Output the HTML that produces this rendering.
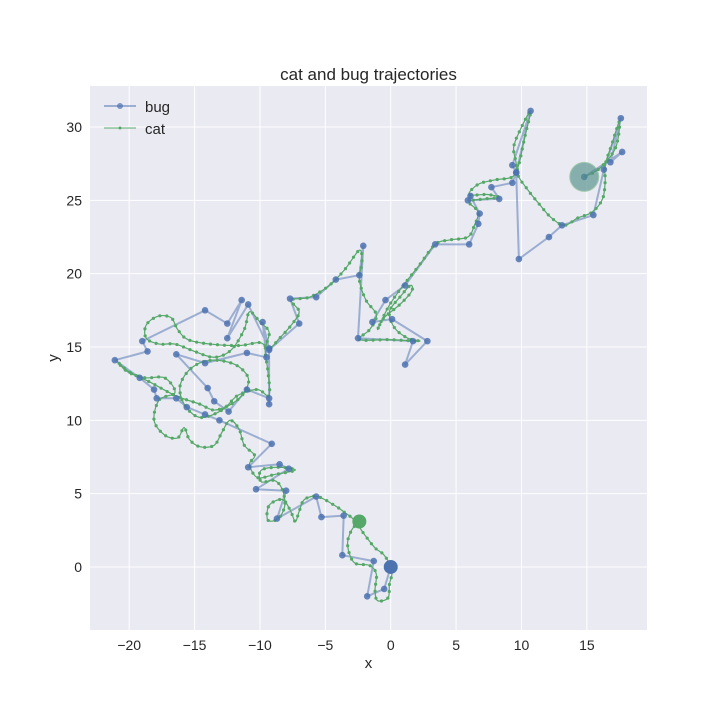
<!DOCTYPE html>
<html><head><meta charset="utf-8"><style>
body{margin:0;background:#fff;font-family:"Liberation Sans","DejaVu Sans",sans-serif}
svg text{font-family:"Liberation Sans","DejaVu Sans",sans-serif;fill:#262626}
</style></head><body>
<svg id="chart" width="720" height="720" viewBox="0 0 720 720">
<rect x="90" y="86" width="557" height="544" fill="#eaeaf2"/>
<g id="grid"></g>
<g id="ticks"></g>
<g id="series"></g>
<text x="368.5" y="80" text-anchor="middle" font-size="17">cat and bug trajectories</text>
<text x="368.5" y="668" text-anchor="middle" font-size="15">x</text>
<text x="58" y="358" text-anchor="middle" font-size="15" transform="rotate(-90 58 358)">y</text>
<g>
<g>
<line x1="104" y1="106" x2="136" y2="106" stroke="#4c72b0" stroke-opacity="0.5" stroke-width="2"/>
<circle cx="120" cy="106" r="3" fill="#4c72b0" fill-opacity="0.7"/>
<text x="145" y="112" font-size="15">bug</text></g>
<g>
<line x1="104" y1="128" x2="136" y2="128" stroke="#55a868" stroke-width="1"/>
<circle cx="120" cy="128" r="1.5" fill="#55a868"/>
<text x="145" y="134" font-size="15">cat</text></g>
</g>
</svg>
<script>
const xTicks=[-20,-15,-10,-5,0,5,10,15];
const yTicks=[0,5,10,15,20,25,30];
const bugX=[0,-0.5,-1.8,-1.3,-3.7,-3.6,-5.3,-5.7,-8.7,-8.0,-10.3,-7.8,-8.5,-10.9,-9.1,-13.1,-14.2,-15.6,-16.4,-17.9,-18.1,-19.2,-21.1,-18.6,-19.0,-14.2,-12.5,-11.4,-12.5,-10.9,-9.3,-9.8,-9.5,-11.0,-14.2,-16.4,-14.0,-13.5,-12.4,-11.0,-9.3,-9.3,-9.3,-7.0,-7.7,-5.7,-4.2,-2.4,-2.1,-2.5,1.7,1.1,2.8,0.1,-1.4,-0.4,1.1,3.4,6.0,6.7,6.8,6.1,5.9,8.3,7.7,9.3,9.6,9.3,10.7,9.6,9.8,12.1,13.1,15.5,16.3,17.6,16.8,17.7,14.8];
const bugY=[0,-1.5,-2.0,0.4,0.8,3.5,3.4,4.8,3.3,5.2,5.3,6.7,7.0,6.8,8.4,10.0,10.4,10.9,11.5,11.5,12.1,12.9,14.1,14.7,15.4,17.5,16.6,18.2,15.6,17.9,14.9,16.7,14.3,14.6,13.9,14.5,12.2,11.3,10.6,12.1,11.5,11.1,14.8,16.6,18.3,18.4,19.6,19.9,21.9,15.6,15.4,13.8,15.4,16.9,16.7,18.2,19.2,22.0,22.0,23.4,24.1,25.3,25.0,25.1,25.9,26.2,26.9,27.4,31.1,26.9,21.0,22.5,23.3,24.0,27.1,30.6,27.6,28.3,26.6];
const catX=[-2.4,-3.0,-3.3,-2.8,-1.6,-1.1,-1.2,-1.0,-0.2,-0.1,0.1,-0.5,-1.2,-2.0,-2.8,-3.5,-4.3,-5.6,-6.6,-7.0,-7.3,-7.7,-8.3,-9.3,-9.4,-8.6,-8.1,-8.3,-8.9,-9.9,-9.9,-8.5,-7.3,-8.9,-10.2,-10.8,-10.4,-11.2,-11.6,-12.3,-12.9,-13.5,-14.6,-15.4,-15.8,-16.3,-17.3,-18.1,-17.7,-16.5,-17.3,-18.8,-20.1,-20.9,-20.0,-18.4,-16.5,-14.6,-13.5,-12.2,-11.2,-10.9,-11.9,-13.7,-15.2,-16.1,-15.8,-14.6,-12.9,-11.7,-10.2,-9.3,-9.4,-9.6,-9.3,-10.0,-10.8,-11.2,-12.2,-13.5,-15.0,-16.5,-17.7,-18.7,-18.7,-17.8,-16.8,-16.3,-15.5,-13.8,-11.6,-10.0,-9.3,-8.5,-7.6,-7.0,-7.6,-6.2,-4.7,-3.5,-2.4,-2.2,-2.4,-1.9,-1.1,-1.6,-2.4,-0.1,2.2,1.3,0.3,-0.1,0.7,1.5,1.6,0.7,-0.5,-1.0,-0.2,0.7,2.2,3.4,4.5,5.9,6.4,6.7,6.0,7.2,8.3,7.4,6.0,6.7,8.0,9.3,9.6,9.4,9.9,10.7,10.3,9.9,9.7,10.5,11.4,12.3,13.3,14.3,15.4,16.2,16.4,16.4,16.9,17.5,17.2,16.0,14.8];
const catY=[3.1,2.5,1.5,0.3,0.1,-0.5,-1.6,-2.3,-2.1,-1.2,-0.2,0.8,1.3,2.2,3.2,3.7,4.2,4.8,4.6,3.8,3.1,3.9,4.6,4.2,3.2,3.3,4.2,5.3,5.9,5.8,6.6,6.8,6.6,6.3,6.1,7.0,7.6,8.3,9.4,10.0,9.2,8.3,8.2,8.7,9.5,8.8,9.0,10.0,11.4,11.9,12.9,12.9,13.3,14.0,13.3,12.6,11.7,11.1,10.7,11.1,11.9,12.9,13.8,14.1,13.6,12.4,11.1,10.2,10.7,11.7,12.1,11.7,13.4,14.8,16.0,16.7,17.4,16.2,14.8,14.3,14.7,15.2,15.2,15.6,16.5,17.1,17.0,16.2,15.5,15.2,15.1,15.3,14.9,15.6,16.5,17.4,18.2,18.4,19.2,20.3,21.6,20.8,19.6,18.2,17.2,16.2,15.5,15.5,15.4,15.6,16.3,17.4,18.4,19.2,18.8,17.9,17.0,16.2,17.7,18.9,20.6,22.0,22.3,22.5,23.3,24.2,24.9,25.1,25.2,25.4,25.4,26.1,26.4,26.6,27.4,28.6,29.8,31.1,29.5,27.8,26.8,25.7,24.7,23.8,23.3,23.8,24.2,25.1,26.3,27.4,28.8,30.4,28.6,27.2,26.6];

const NS="http://www.w3.org/2000/svg";
const X0=90,X1=647,Y0=86,Y1=630,XMIN=-23.0,XMAX=19.6,YMIN=-4.3,YMAX=32.8;
function sx(v){return X0+(v-XMIN)/(XMAX-XMIN)*(X1-X0);}
function sy(v){return Y1-(v-YMIN)/(YMAX-YMIN)*(Y1-Y0);}
function mk(tag,attrs,parent){const e=document.createElementNS(NS,tag);for(const k in attrs)e.setAttribute(k,attrs[k]);parent.appendChild(e);return e;}
const grid=document.getElementById('grid'),ticks=document.getElementById('ticks'),series=document.getElementById('series');
xTicks.forEach(t=>{
  const l=mk('line',{x1:sx(t),x2:sx(t),y1:Y0,y2:Y1,stroke:'#fff','stroke-width':1},grid);
  
  
  const tx=mk('text',{x:sx(t),y:Y1+20,'text-anchor':'middle','font-size':14},ticks);
  tx.textContent=t===0?'0':(t<0?'\u2212'+(-t):t);
  
  
});
yTicks.forEach(t=>{
  const l=mk('line',{x1:X0,x2:X1,y1:sy(t),y2:sy(t),stroke:'#fff','stroke-width':1},grid);
  
  
  const tx=mk('text',{x:X0-8,y:sy(t)+5,'text-anchor':'end','font-size':14},ticks);
  tx.textContent=t;
  
  
});
// bug line
let d='';bugX.forEach((v,i)=>{d+=(i?'L':'M')+sx(v).toFixed(1)+','+sy(bugY[i]).toFixed(1);});
const bl=mk('path',{d:d,fill:'none',stroke:'#4c72b0','stroke-opacity':0.5,'stroke-width':2,'stroke-linejoin':'round'},series);


// cat smooth line
const P=catX.map((v,i)=>[sx(v),sy(catY[i])]);
let cd='M'+P[0][0]+','+P[0][1];
for(let i=0;i<P.length-1;i++){
  const p0=P[Math.max(0,i-1)],p1=P[i],p2=P[i+1],p3=P[Math.min(P.length-1,i+2)];
  const c1=[p1[0]+(p2[0]-p0[0])/6,p1[1]+(p2[1]-p0[1])/6],c2=[p2[0]-(p3[0]-p1[0])/6,p2[1]-(p3[1]-p1[1])/6];
  cd+='C'+c1.join(',')+' '+c2.join(',')+' '+p2.join(',');
}
const cl=mk('path',{d:cd,fill:'none',stroke:'#55a868','stroke-width':1.2},series);


const L=cl.getTotalLength();
for(let s=0;s<L;s+=7){const pt=cl.getPointAtLength(s);
  const c=mk('circle',{cx:pt.x,cy:pt.y,r:1.6,fill:'#55a868'},series);
  
  
}
bugX.forEach((v,i)=>{
  const c=mk('circle',{cx:sx(v),cy:sy(bugY[i]),r:3.3,fill:'#4c72b0','fill-opacity':0.85},series);
  
  
});
const bs=mk('circle',{cx:sx(bugX[0]),cy:sy(bugY[0]),r:7,fill:'#4c72b0'},series);


const cs=mk('circle',{cx:sx(catX[0]),cy:sy(catY[0]),r:7,fill:'#55a868'},series);


const n=catX.length-1;
const ce=mk('circle',{cx:sx(catX[n]),cy:sy(catY[n]),r:15,fill:'#55a868','fill-opacity':0.5},series);


const m=bugX.length-1;
const be=mk('circle',{cx:sx(bugX[m]),cy:sy(bugY[m]),r:14,fill:'#4c72b0','fill-opacity':0.3},series);


</script>
</body></html>
